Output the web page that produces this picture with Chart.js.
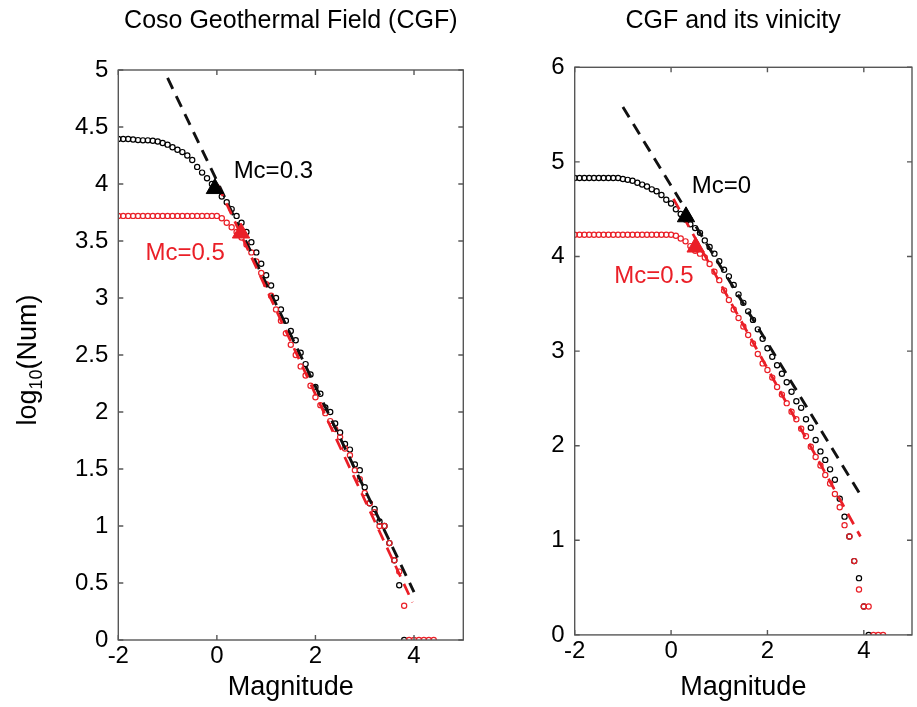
<!DOCTYPE html>
<html>
<head>
<meta charset="utf-8">
<script src="https://cdn.jsdelivr.net/npm/chart.js@4.4.1/dist/chart.umd.min.js"></script>
<style>
  html, body { margin: 0; padding: 0; background: #fff; overflow: hidden; }
  #wrap { position: relative; width: 917px; height: 707px; overflow: hidden; }
  canvas { position: absolute; top: 0; }
</style>
</head>
<body>
<div id="wrap">
  <canvas id="leftChart" width="577" height="707" style="left:0"></canvas>
  <canvas id="rightChart" width="378" height="707" style="left:545px"></canvas>
</div>
<script>
// magnitude bins (0.1 step)
const mags = [-2.0, -1.9, -1.8, -1.7, -1.6, -1.5, -1.4, -1.3, -1.2, -1.1,
  -1.0, -0.9, -0.8, -0.7, -0.6, -0.5, -0.4, -0.3, -0.2, -0.1,
  0.0, 0.1, 0.2, 0.3, 0.4, 0.5, 0.6, 0.7, 0.8, 0.9,
  1.0, 1.1, 1.2, 1.3, 1.4, 1.5, 1.6, 1.7, 1.8, 1.9,
  2.0, 2.1, 2.2, 2.3, 2.4, 2.5, 2.6, 2.7, 2.8, 2.9,
  3.0, 3.1, 3.2, 3.3, 3.4, 3.5, 3.6, 3.7, 3.8, 3.9,
  4.0, 4.1, 4.2, 4.3, 4.4];

// log10(Num), Coso Geothermal Field
const cgfBlack = [4.395, 4.395, 4.395, 4.39, 4.385, 4.383, 4.383, 4.38, 4.373, 4.36,
  4.345, 4.322, 4.30, 4.28, 4.25, 4.21, 4.15, 4.10, 4.05, 4.00,
  3.95, 3.89, 3.84, 3.78, 3.72, 3.66, 3.58, 3.49, 3.40, 3.30,
  3.20, 3.11, 3.00, 2.90, 2.80, 2.71, 2.63, 2.52, 2.42, 2.33,
  2.22, 2.16, 2.04, 2.00, 1.90, 1.82, 1.72, 1.67, 1.54, 1.49,
  1.34, 1.20, 1.15, 1.04, 1.00, 0.85, 0.70, 0.48, 0];
const cgfRed = [3.72, 3.72, 3.72, 3.72, 3.72, 3.72, 3.72, 3.72, 3.72, 3.72,
  3.72, 3.72, 3.72, 3.72, 3.72, 3.72, 3.72, 3.72, 3.72, 3.72,
  3.72, 3.70, 3.66, 3.62, 3.58, 3.53, 3.47, 3.40, 3.32, 3.22,
  3.12, 3.02, 2.90, 2.80, 2.69, 2.59, 2.50, 2.40, 2.32, 2.23,
  2.13, 2.06, 1.99, 1.92, 1.85, 1.78, 1.68, 1.62, 1.49, 1.41,
  1.29, 1.20, 1.12, 1.00, 1.00, 0.85, 0.70, 0.60, 0.30, 0,
  0, 0, 0, 0, 0];

// log10(Num), CGF and its vicinity
const vicBlack = [4.83, 4.83, 4.83, 4.83, 4.83, 4.83, 4.83, 4.83, 4.83, 4.83,
  4.82, 4.81, 4.80, 4.78, 4.76, 4.74, 4.71, 4.69, 4.65, 4.60,
  4.56, 4.50, 4.45, 4.39, 4.34, 4.30, 4.25, 4.17, 4.10, 4.03,
  3.95, 3.86, 3.79, 3.70, 3.60, 3.51, 3.42, 3.33, 3.23, 3.13,
  3.03, 2.94, 2.85, 2.76, 2.67, 2.57, 2.47, 2.40, 2.28, 2.19,
  2.06, 1.94, 1.85, 1.75, 1.64, 1.44, 1.25, 1.04, 0.78, 0.60,
  0.30, 0];
const vicRed = [4.23, 4.23, 4.23, 4.23, 4.23, 4.23, 4.23, 4.23, 4.23, 4.23,
  4.23, 4.23, 4.23, 4.23, 4.23, 4.23, 4.23, 4.23, 4.23, 4.23,
  4.23, 4.22, 4.19, 4.16, 4.11, 4.06, 4.03, 3.99, 3.92, 3.84,
  3.75, 3.64, 3.54, 3.44, 3.35, 3.26, 3.17, 3.08, 2.97, 2.87,
  2.80, 2.72, 2.62, 2.54, 2.45, 2.36, 2.28, 2.18, 2.10, 1.99,
  1.88, 1.79, 1.69, 1.60, 1.49, 1.35, 1.16, 1.04, 0.78, 0.48,
  0.30, 0.30, 0, 0, 0];

// G-R fit lines [[m1, v1], [m2, v2]]
const cgfFitBlack = [[-1.0, 4.93], [4.0, 0.42]];
const cgfFitRed = [[0.02, 3.99], [3.97, 0.33]];
const vicFitBlack = [[-1.0, 5.58], [3.98, 1.44]];
const vicFitRed = [[0.05, 4.61], [3.93, 1.04]];

// Mc markers [m, v]
const cgfMcBlack = [-0.04, 3.96];
const cgfMcRed = [0.49, 3.57];
const vicMcBlack = [0.31, 4.42];
const vicMcRed = [0.51, 4.10];

// axis ticks
const xTicks = [-2, 0, 2, 4];

const RED = '#ea1f27';
const FONT = "'Liberation Sans', Arial, Helvetica, sans-serif";
Chart.defaults.font.family = FONT;
Chart.defaults.color = '#000';

function pts(vals) {
  return vals.map((v, i) => ({ x: mags[i], y: v }));
}
function pairs(arr) {
  return arr.map(p => ({ x: p[0], y: p[1] }));
}

// MATLAB-like box with inward ticks, plus text notes
const boxPlugin = {
  id: 'box',
  afterDraw(chart, args, opts) {
    const { ctx, chartArea: a, scales: { x, y } } = chart;
    ctx.save();
    ctx.strokeStyle = '#575757';
    ctx.lineWidth = 1.4;
    ctx.strokeRect(a.left, a.top, a.right - a.left, a.bottom - a.top);
    ctx.beginPath();
    x.ticks.forEach(t => {
      const px = x.getPixelForValue(t.value);
      ctx.moveTo(px, a.bottom); ctx.lineTo(px, a.bottom - 5);
      ctx.moveTo(px, a.top); ctx.lineTo(px, a.top + 5);
    });
    y.ticks.forEach(t => {
      const py = y.getPixelForValue(t.value);
      ctx.moveTo(a.left, py); ctx.lineTo(a.left + 5, py);
      ctx.moveTo(a.right, py); ctx.lineTo(a.right - 5, py);
    });
    ctx.stroke();

    ctx.textBaseline = 'middle';
    ctx.textAlign = 'left';
    ctx.font = '24px ' + FONT;
    (opts.notes || []).forEach(n => {
      ctx.fillStyle = n.color;
      ctx.fillText(n.text, x.getPixelForValue(n.x), y.getPixelForValue(n.y));
    });

    if (opts.yTitle) {
      // log10(Num) with subscript
      ctx.translate(27, 360);
      ctx.rotate(-Math.PI / 2);
      ctx.fillStyle = '#000';
      ctx.textBaseline = 'alphabetic';
      const big = '27px ' + FONT, small = '18px ' + FONT;
      ctx.font = big;
      const w1 = ctx.measureText('log').width, w3 = ctx.measureText('(Num)').width;
      ctx.font = small;
      const w2 = ctx.measureText('10').width;
      let cx = -(w1 + w2 + w3) / 2;
      ctx.font = big; ctx.fillText('log', cx, 9); cx += w1;
      ctx.font = small; ctx.fillText('10', cx, 15); cx += w2;
      ctx.font = big; ctx.fillText('(Num)', cx, 9);
    }
    ctx.restore();
  }
};

function makePanel(id, o) {
  const ctx = document.getElementById(id).getContext('2d');
  return new Chart(ctx, {
    type: 'scatter',
    data: {
      datasets: [
        { data: [{ x: o.mcRed[0], y: o.mcRed[1] }], pointStyle: 'triangle', pointRadius: 10,
          backgroundColor: RED, borderColor: RED, borderWidth: 1 },
        { data: [{ x: o.mcBlack[0], y: o.mcBlack[1] }], pointStyle: 'triangle', pointRadius: 10,
          backgroundColor: '#000', borderColor: '#000', borderWidth: 1 },
        { data: pairs(o.fitRed), showLine: true, borderColor: RED, borderWidth: 2.7,
          borderDash: [12, 8], pointRadius: 0 },
        { data: pairs(o.fitBlack), showLine: true, borderColor: '#111', borderWidth: 2.9,
          borderDash: [12, 8], pointRadius: 0 },
        { data: pts(o.red), pointStyle: 'circle', pointRadius: 2.6, borderWidth: 1.2,
          borderColor: RED, backgroundColor: 'rgba(0,0,0,0)' },
        { data: pts(o.black), pointStyle: 'circle', pointRadius: 2.6, borderWidth: 1.2,
          borderColor: '#000', backgroundColor: 'rgba(0,0,0,0)' }
      ]
    },
    options: {
      responsive: false,
      animation: false,
      devicePixelRatio: 1,
      layout: { padding: { left: 0, right: o.padRight, top: 0, bottom: 0 } },
      plugins: {
        legend: { display: false },
        tooltip: { enabled: false },
        title: {
          display: true, text: o.title, color: '#000', fullSize: o.titleFull,
          font: { size: 25, weight: 'normal', lineHeight: 1 },
          padding: { top: 9, bottom: o.titleGap }
        },
        box: { notes: o.notes, yTitle: o.yTitle }
      },
      scales: {
        x: {
          type: 'linear', min: -2, max: 5,
          afterBuildTicks: s => { s.ticks = xTicks.map(v => ({ value: v })); },
          afterFit: s => { s.height = o.xHeight; },
          grid: { display: false, drawTicks: false },
          border: { display: false },
          ticks: { font: { size: 24 }, padding: 2, maxRotation: 0 },
          title: { display: true, text: 'Magnitude', font: { size: 27 }, padding: { top: 0, bottom: 3 } }
        },
        y: {
          type: 'linear', min: 0, max: o.yMax,
          afterFit: s => { s.width = o.yWidth; },
          grid: { display: false, drawTicks: false },
          border: { display: false },
          ticks: { stepSize: o.yStep, font: { size: 24 }, padding: 10,
            callback: v => String(Math.round(v * 10) / 10) }
        }
      }
    },
    plugins: [boxPlugin]
  });
}

makePanel('leftChart', {
  title: 'Coso Geothermal Field (CGF)', titleFull: false,
  black: cgfBlack, red: cgfRed,
  fitBlack: cgfFitBlack, fitRed: cgfFitRed,
  mcBlack: cgfMcBlack, mcRed: cgfMcRed,
  yMax: 5, yStep: 0.5,
  yWidth: 118.3, xHeight: 67, padRight: 113.7, titleGap: 36,
  yTitle: true,
  notes: [
    { text: 'Mc=0.3', x: 0.34, y: 4.11, color: '#000' },
    { text: 'Mc=0.5', x: -1.45, y: 3.39, color: RED }
  ]
});

makePanel('rightChart', {
  title: 'CGF and its vinicity', titleFull: true,
  black: vicBlack, red: vicRed,
  fitBlack: vicFitBlack, fitRed: vicFitRed,
  mcBlack: vicMcBlack, mcRed: vicMcRed,
  yMax: 6, yStep: 1,
  yWidth: 29.7, xHeight: 72.1, padRight: 1.8, titleGap: 33.3,
  yTitle: false,
  notes: [
    { text: 'Mc=0', x: 0.43, y: 4.74, color: '#000' },
    { text: 'Mc=0.5', x: -1.18, y: 3.79, color: RED }
  ]
});
</script>
</body>
</html>
